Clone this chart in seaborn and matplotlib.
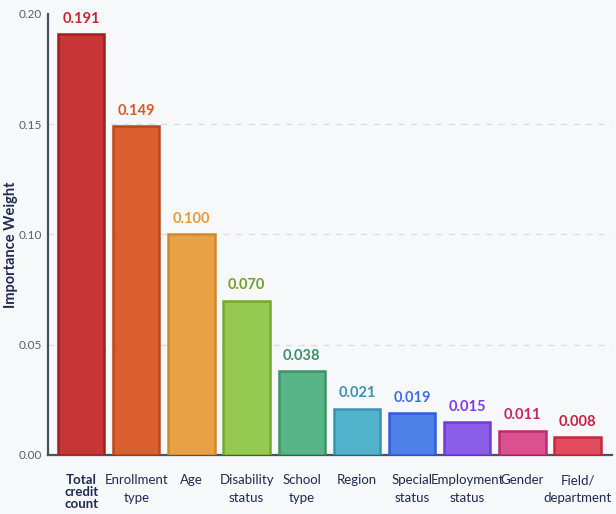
import matplotlib
matplotlib.use("Agg")
import matplotlib.pyplot as plt
import seaborn as sns
import pandas as pd

features = ["Total\ncredit\ncount", "Enrollment\ntype", "Age", "Disability\nstatus", "School\ntype",
            "Region", "Special\nstatus", "Employment\nstatus", "Gender", "Field/\ndepartment"]
weights = [0.191, 0.149, 0.100, 0.070, 0.038, 0.021, 0.019, 0.015, 0.011, 0.008]

bar_colors = ["#c93436", "#d95f2f", "#e8a244", "#95c94f", "#58b585",
              "#52b1cb", "#4f80e8", "#8b5de7", "#d9528f", "#e04c5e"]
edge_colors = ["#9c2024", "#b8481e", "#d08830", "#74a832", "#3d9466",
               "#3a93ad", "#2f5fd6", "#6d3dd6", "#c02a6c", "#c8283e"]
label_colors = ["#c62630", "#d85a26", "#e89a36", "#6f9e2a", "#3c9066",
                "#3a90ae", "#3f6ee2", "#7d3cea", "#c8255e", "#c91f3e"]

df = pd.DataFrame({"feature": features, "weight": weights})

sns.set_style("white")
plt.rcParams["font.family"] = ["Lato", "DejaVu Sans"]

bg = "#f7f8fa"
fig = plt.figure(figsize=(6.16, 5.14), dpi=100, facecolor=bg)
ax = fig.add_axes([0.078, 0.115, 0.916, 0.858])
ax.set_facecolor(bg)

sns.barplot(data=df, x="feature", y="weight", hue="feature", palette=bar_colors,
            saturation=1, legend=False, width=0.84, ax=ax, zorder=3)

for patch, ec in zip(ax.patches, edge_colors):
    patch.set_edgecolor(ec)
    patch.set_linewidth(1.8)

for i, (w, c) in enumerate(zip(weights, label_colors)):
    ax.text(i, w + 0.0037, f"{w:.3f}", ha="center", va="bottom",
            fontsize=10.5, fontweight="bold", color=c, zorder=4)

ax.set_ylim(0, 0.20)
ax.set_xlim(-0.6, 9.63)
ax.set_yticks([0.0, 0.05, 0.10, 0.15, 0.20])
ax.set_yticklabels(["0.00", "0.05", "0.10", "0.15", "0.20"])
# dashed guides only at the inner ticks
for yv in [0.05, 0.10, 0.15]:
    ax.axhline(yv, linestyle=(0, (5, 5)), color="#d9dce2", linewidth=0.9, zorder=0)

for s in ["top", "right"]:
    ax.spines[s].set_visible(False)
for s in ["left", "bottom"]:
    ax.spines[s].set_color("#4a5260")
    ax.spines[s].set_linewidth(1.6)

ax.tick_params(axis="y", labelsize=8.5, colors="#4a5260", labelcolor="#5a5f6a",
               length=3, width=0.8, pad=1.5)
ax.tick_params(axis="x", labelsize=9.5, labelcolor="#1f2a55", length=0, pad=14)
for lbl in ax.get_xticklabels():
    lbl.set_linespacing(1.55)
ax.get_xticklabels()[0].set_fontweight("bold")
ax.get_xticklabels()[0].set_linespacing(1.0)

ax.set_xlabel("")
ax.set_ylabel("Importance Weight", fontsize=10.5, fontweight="bold", color="#1f2a55")
ax.yaxis.set_label_coords(-0.054, 0.476)

fig.savefig("out.png", dpi=100, facecolor=bg)
